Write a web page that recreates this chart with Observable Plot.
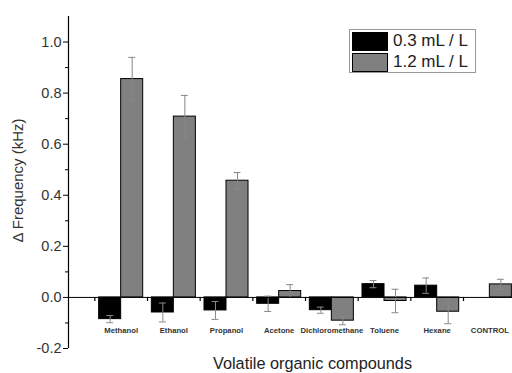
<!DOCTYPE html>
<html>
<head>
<meta charset="utf-8">
<script src="https://cdn.jsdelivr.net/npm/d3@7"></script>
<script src="https://cdn.jsdelivr.net/npm/@observablehq/plot@0.6"></script>
<style>
  html, body { margin: 0; padding: 0; background: #fff; overflow: hidden; }
  #wrap { position: relative; width: 512px; height: 373px; font-family: "Liberation Sans", Arial, sans-serif; }
  #legend { position: absolute; left: 349px; top: 29px; width: 125px; height: 42px; border: 1px solid #999; background: #fff; }
  .row { position: absolute; left: 2px; height: 20px; display: flex; align-items: center; }
  .sw { width: 36px; height: 19px; box-sizing: border-box; border: 1px solid #000; margin-right: 5px; }
  .lab { font-size: 17px; color: #222; line-height: 20px; }
</style>
</head>
<body>
<div id="wrap">
  <div id="chart"></div>
  <div id="legend"></div>
</div>
<script>
const categories = ["Methanol", "Ethanol", "Propanol", "Acetone", "Dichloromethane", "Toluene", "Hexane", "CONTROL"];
const seriesNames = ["0.3 mL / L", "1.2 mL / L"];
const low = [-0.085, -0.059, -0.051, -0.025, -0.05, 0.052, 0.046, 0];
const lowErr = [0.014, 0.037, 0.035, 0.03, 0.012, 0.014, 0.03, 0];
const high = [0.855, 0.708, 0.457, 0.025, -0.091, -0.014, -0.056, 0.051];
const highErr = [0.085, 0.083, 0.032, 0.025, 0.016, 0.046, 0.047, 0.02];
const majorTicks = [-0.2, 0, 0.2, 0.4, 0.6, 0.8, 1.0];
const minorTicks = [-0.1, 0.1, 0.3, 0.5, 0.7, 0.9];
const colors = ["#000000", "#808080"];

const barW = 0.418;
const rows = [];
categories.forEach((c, i) => {
  rows.push({cat: c, s: 0, pos: i + 1, x1: i + 1 - barW, x2: i + 1, v: low[i], e: lowErr[i]});
  rows.push({cat: c, s: 1, pos: i + 1, x1: i + 1, x2: i + 1 + barW, v: high[i], e: highErr[i]});
});
const errRows = rows.filter(d => d.e > 0);
const capW = 0.066;
const edges = [0].concat(categories.map((d, i) => i + 1)).map(k => k + 0.5);

const chart = Plot.plot({
  width: 512,
  height: 373,
  marginLeft: 68,
  marginRight: 0,
  marginTop: 16,
  marginBottom: 25,
  style: {fontFamily: "'Liberation Sans', Arial, sans-serif", color: "#222", background: "#fff", overflow: "hidden"},
  x: {domain: [0, 8.43], axis: null},
  y: {domain: [-0.2, 1.1], axis: null},
  marks: [
    Plot.rect(rows, {x1: "x1", x2: "x2", y1: 0, y2: "v", fill: d => colors[d.s], stroke: "#000", strokeWidth: 1}),
    Plot.ruleX(errRows, {x: d => (d.x1 + d.x2) / 2, y1: d => d.v - d.e, y2: d => d.v + d.e, stroke: "#888", strokeWidth: 1}),
    Plot.ruleY(errRows, {y: d => d.v + d.e, x1: d => (d.x1 + d.x2) / 2 - capW, x2: d => (d.x1 + d.x2) / 2 + capW, stroke: "#888", strokeWidth: 1}),
    Plot.ruleY(errRows, {y: d => d.v - d.e, x1: d => (d.x1 + d.x2) / 2 - capW, x2: d => (d.x1 + d.x2) / 2 + capW, stroke: "#888", strokeWidth: 1}),
    Plot.ruleY([0], {stroke: "#000", strokeWidth: 1}),
    Plot.ruleX(edges, {x: d => d, y1: 0, y2: -0.016, stroke: "#000", strokeWidth: 1.2}),
    Plot.ruleX([0], {y1: -0.2, y2: 1.1, stroke: "#000", strokeWidth: 1.2}),
    Plot.axisY({ticks: majorTicks, tickSize: 5, tickPadding: 2, tickFormat: d => d.toFixed(1), fontSize: 14.5, stroke: "#000", fill: "#333", label: null}),
    Plot.axisY({ticks: minorTicks, tickSize: 3, tickFormat: () => "", stroke: "#000", label: null}),
    Plot.text(categories, {x: (d, i) => i + 1, frameAnchor: "bottom", dy: -16, text: d => d, fontSize: 7.7, fontWeight: "bold", fill: "#333"}),
    Plot.text(["Δ Frequency (kHz)"], {frameAnchor: "left", textAnchor: "middle", dx: -50, dy: -2, rotate: -90, fontSize: 15, fill: "#333"}),
    Plot.text(["Volatile organic compounds"], {frameAnchor: "bottom", dx: 22, dy: 20, fontSize: 16.3, fill: "#222"})
  ]
});
document.getElementById("chart").appendChild(chart);

const legend = document.getElementById("legend");
seriesNames.forEach((name, i) => {
  const row = document.createElement("div");
  row.className = "row";
  row.style.top = (1 + i * 21) + "px";
  row.innerHTML = `<div class="sw" style="background:${colors[i]}"></div><span class="lab">${name}</span>`;
  legend.appendChild(row);
});
</script>
</body>
</html>
